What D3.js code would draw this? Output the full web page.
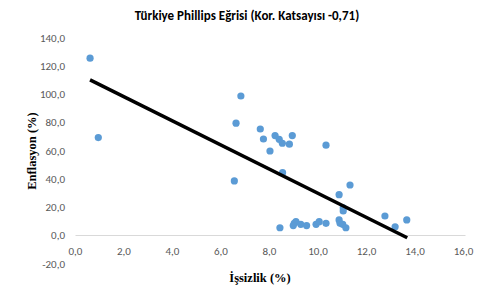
<!DOCTYPE html>
<html>
<head>
<meta charset="utf-8">
<script src="https://cdn.jsdelivr.net/npm/d3@7"></script>
<style>
  body { margin: 0; background: #fff; }
  svg { display: block; }
</style>
</head>
<body>
<svg id="chart" width="500" height="303"></svg>
<script>
// unemployment (%) and inflation (%)
const unemployment = [0.6, 0.94, 6.82, 6.62, 7.62, 7.75, 8.23, 8.40, 8.53, 8.94, 8.82, 8.02, 10.33, 8.54, 6.55, 11.32,
  10.87, 11.04, 11.04, 12.76, 8.43, 9.02, 9.09, 8.98, 9.29, 9.53, 9.92, 10.05, 10.33, 10.87, 10.91, 11.02, 11.15, 13.18, 13.66];
const inflation = [125.7, 69.4, 98.9, 79.6, 75.5, 68.4, 70.8, 68.2, 65.4, 70.8, 64.7, 59.9, 64.0, 44.5, 38.7, 35.8,
  28.9, 19.6, 17.4, 13.8, 5.5, 8.6, 9.8, 7.0, 7.9, 7.0, 7.9, 9.8, 8.6, 11.0, 8.6, 7.9, 5.5, 6.2, 11.0];
// linear trendline end points
const trendX = [0.6, 13.68];
const trendY = [110.3, -1.6];
const xTicks = [0, 2, 4, 6, 8, 10, 12, 14, 16];
const yTicks = [-20, 0, 20, 40, 60, 80, 100, 120, 140];

const svg = d3.select('#chart');
const fmt = d => d3.format('.1f')(d).replace('.', ',').replace('−', '-');

const x = d3.scaleLinear().domain([0, 16]).range([75.5, 463.5]);
const y = d3.scaleLinear().domain([-20, 140]).range([263.7, 38]);

// horizontal axis at zero
svg.append('line')
  .attr('x1', x(0)).attr('x2', x(16) + 2)
  .attr('y1', y(0)).attr('y2', y(0))
  .attr('stroke', '#d9d9d9').attr('stroke-width', 1);

// y tick labels
svg.append('g').selectAll('text').data(yTicks).join('text')
  .attr('x', 65).attr('y', d => y(d))
  .attr('dy', '0.35em')
  .attr('text-anchor', 'end')
  .attr('font-family', 'Carlito, Calibri, "Liberation Sans", sans-serif')
  .attr('font-size', 11).attr('fill', '#595959')
  .text(fmt);

// x tick labels
svg.append('g').selectAll('text').data(xTicks).join('text')
  .attr('x', d => x(d)).attr('y', 251)
  .attr('dy', '0.35em')
  .attr('text-anchor', 'middle')
  .attr('font-family', 'Carlito, Calibri, "Liberation Sans", sans-serif')
  .attr('font-size', 11).attr('fill', '#595959')
  .text(fmt);

const points = unemployment.map((u, i) => [u, inflation[i]]);

svg.append('g').selectAll('circle').data(points).join('circle')
  .attr('cx', d => x(d[0])).attr('cy', d => y(d[1]))
  .attr('r', 3.6)
  .attr('fill', '#5b9bd5');

svg.append('path')
  .datum(trendX.map((t, i) => [t, trendY[i]]))
  .attr('d', d3.line().x(d => x(d[0])).y(d => y(d[1])))
  .attr('stroke', '#000').attr('stroke-width', 3.5)
  .attr('fill', 'none');

// title
svg.append('text')
  .attr('x', 247).attr('y', 15).attr('dy', '0.35em')
  .attr('text-anchor', 'middle')
  .attr('font-family', 'Carlito, Calibri, "Liberation Sans", sans-serif')
  .attr('font-weight', 'bold').attr('font-size', 13).attr('fill', '#000')
  .text('Türkiye Phillips Eğrisi (Kor. Katsayısı -0,71)');

// axis titles
svg.append('text')
  .attr('x', 260).attr('y', 278).attr('dy', '0.35em')
  .attr('text-anchor', 'middle')
  .attr('font-family', '"Liberation Serif", "Times New Roman", serif')
  .attr('font-weight', 'bold').attr('font-size', 12.5).attr('fill', '#000')
  .text('İşsizlik (%)');

svg.append('text')
  .attr('transform', 'translate(32,151) rotate(-90)')
  .attr('dy', '0.35em')
  .attr('text-anchor', 'middle')
  .attr('font-family', '"Liberation Serif", "Times New Roman", serif')
  .attr('font-weight', 'bold').attr('font-size', 12.5).attr('fill', '#000')
  .text('Enflasyon (%)');
</script>
</body>
</html>
